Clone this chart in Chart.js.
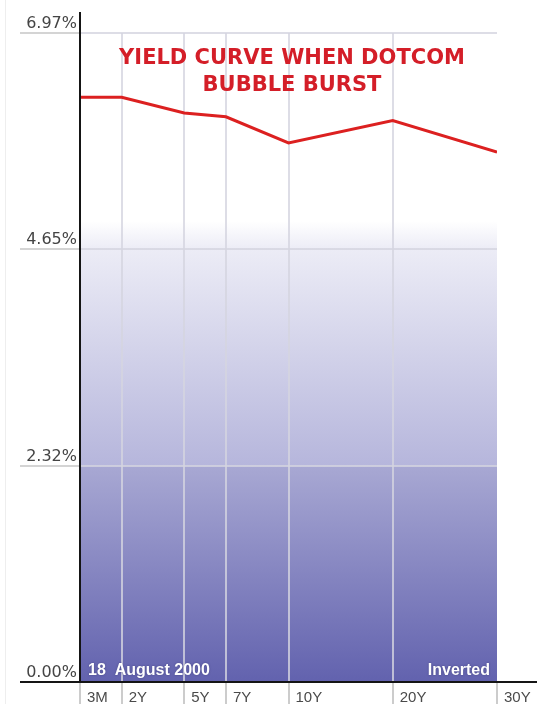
<!DOCTYPE html>
<html>
<head>
<meta charset="utf-8">
<title>Yield curve when dotcom bubble burst</title>
<script src="https://cdn.jsdelivr.net/npm/chart.js@4.4.1/dist/chart.umd.min.js"></script>
<style>
  body { margin: 0; background: #fff; }
  #wrap { width: 537px; height: 704px; }
</style>
</head>
<body>
<div id="wrap"><canvas id="myChart" width="537" height="704"></canvas></div>
<script>
// Maturities and where they sit along the x axis (axis units, not pixels)
const maturities = ['3M', '2Y', '5Y', '7Y', '10Y', '20Y', '30Y'];
const axisPositions = [0, 1, 2.5, 3.5, 5, 7.5, 10];

// Treasury yields on 18 August 2000 (%)
const yields = [6.28, 6.28, 6.11, 6.07, 5.79, 6.03, 5.69];

// Y axis tick labels
const yTickValues = [0, 2.32, 4.65, 6.97];

const titleLines = ['YIELD CURVE WHEN DOTCOM', 'BUBBLE BURST'];
const dateText = '18  August 2000';
const shapeText = 'Inverted';

const canvas = document.getElementById('myChart');
const ctx = canvas.getContext('2d');

// Shaded background of the plot area
const backgroundPlugin = {
  id: 'background',
  beforeDraw(chart) {
    const { ctx, chartArea } = chart;
    const y = chart.scales.y;
    const h = chartArea.bottom - chartArea.top;
    const frac = v => (y.getPixelForValue(v) - chartArea.top) / h;

    const grad = ctx.createLinearGradient(0, chartArea.top, 0, chartArea.bottom);
    grad.addColorStop(0, '#ffffff');
    grad.addColorStop(frac(4.95), '#ffffff');
    grad.addColorStop(frac(4.65), 'rgb(236,236,246)');
    grad.addColorStop(frac(2.32) - 0.001, 'rgb(182,182,220)');
    grad.addColorStop(frac(2.32), 'rgb(168,168,211)');
    grad.addColorStop(1, 'rgb(98,98,174)');

    ctx.save();
    ctx.fillStyle = grad;
    ctx.fillRect(chartArea.left, chartArea.top, chartArea.right - chartArea.left, h);

    // faint frame line on the far left
    ctx.strokeStyle = '#eeeeee';
    ctx.lineWidth = 1;
    ctx.beginPath();
    ctx.moveTo(5.5, 0);
    ctx.lineTo(5.5, chart.height);
    ctx.stroke();
    ctx.restore();
  }
};

// Axis lines, labels and titles
const labelsPlugin = {
  id: 'labels',
  afterDraw(chart) {
    const { ctx, chartArea } = chart;
    const x = chart.scales.x;
    const y = chart.scales.y;

    ctx.save();

    // black axis lines
    ctx.strokeStyle = '#151515';
    ctx.lineWidth = 2;
    ctx.beginPath();
    ctx.moveTo(chartArea.left, 12);
    ctx.lineTo(chartArea.left, chartArea.bottom + 1);
    ctx.moveTo(20, chartArea.bottom);
    ctx.lineTo(chart.width, chartArea.bottom);
    ctx.stroke();

    // y tick labels, sitting above their grid lines
    ctx.fillStyle = '#444444';
    ctx.font = '16px "DejaVu Sans"';
    ctx.textAlign = 'right';
    ctx.textBaseline = 'alphabetic';
    yTickValues.forEach(v => {
      ctx.fillText(v.toFixed(2) + '%', chartArea.left - 3, y.getPixelForValue(v) - 5);
    });

    // x tick labels, left aligned after each tick
    ctx.fillStyle = '#4a4a4a';
    ctx.font = '15px "Liberation Sans"';
    ctx.textAlign = 'left';
    maturities.forEach((m, i) => {
      ctx.fillText(m, x.getPixelForValue(axisPositions[i]) + 7, chartArea.bottom + 20);
    });

    // chart title
    ctx.fillStyle = '#d41e28';
    ctx.font = 'bold 21px "DejaVu Sans"';
    ctx.textAlign = 'center';
    ctx.textBaseline = 'middle';
    titleLines.forEach((line, i) => {
      ctx.fillText(line, 292, 59 + i * 27);
    });

    // white captions along the bottom of the plot
    ctx.fillStyle = '#ffffff';
    ctx.shadowColor = 'rgba(40,40,90,0.5)';
    ctx.shadowBlur = 2;
    ctx.font = 'bold 16px "Liberation Sans"';
    ctx.textBaseline = 'alphabetic';
    ctx.textAlign = 'left';
    ctx.fillText(dateText, chartArea.left + 8, chartArea.bottom - 7);
    ctx.textAlign = 'right';
    ctx.fillText(shapeText, chartArea.right - 7, chartArea.bottom - 7);

    ctx.restore();
  }
};

const points = yields.map((v, i) => ({ x: axisPositions[i], y: v }));

const myChart = new Chart(ctx, {
  type: 'line',
  data: {
    datasets: [{
      label: 'Yield',
      data: points,
      borderColor: '#dc2020',
      borderWidth: 3,
      pointRadius: 0,
      tension: 0,
      fill: false
    }]
  },
  options: {
    responsive: false,
    animation: false,
    layout: {
      padding: { left: 20, top: 33, right: 40, bottom: 0 }
    },
    plugins: {
      legend: { display: false },
      tooltip: { enabled: false }
    },
    scales: {
      x: {
        type: 'linear',
        min: axisPositions[0],
        max: axisPositions[axisPositions.length - 1],
        afterBuildTicks: scale => {
          scale.ticks = axisPositions.map(v => ({ value: v }));
        },
        border: { display: false },
        grid: {
          // no grid line on the right edge of the plot
          color: c => c.index === axisPositions.length - 1 ? 'rgba(0,0,0,0)' : 'rgba(212,212,224,0.8)',
          tickColor: '#cccccc',
          tickLength: 22,
          lineWidth: 2
        },
        ticks: { display: false }
      },
      y: {
        min: 0,
        max: yTickValues[yTickValues.length - 1],
        afterBuildTicks: scale => {
          scale.ticks = yTickValues.map(v => ({ value: v }));
        },
        border: { display: false },
        grid: {
          color: 'rgba(212,212,224,0.8)',
          tickColor: '#d4d4d4',
          tickLength: 60,
          lineWidth: 2
        },
        ticks: { display: false }
      }
    }
  },
  plugins: [backgroundPlugin, labelsPlugin]
});
</script>
</body>
</html>
